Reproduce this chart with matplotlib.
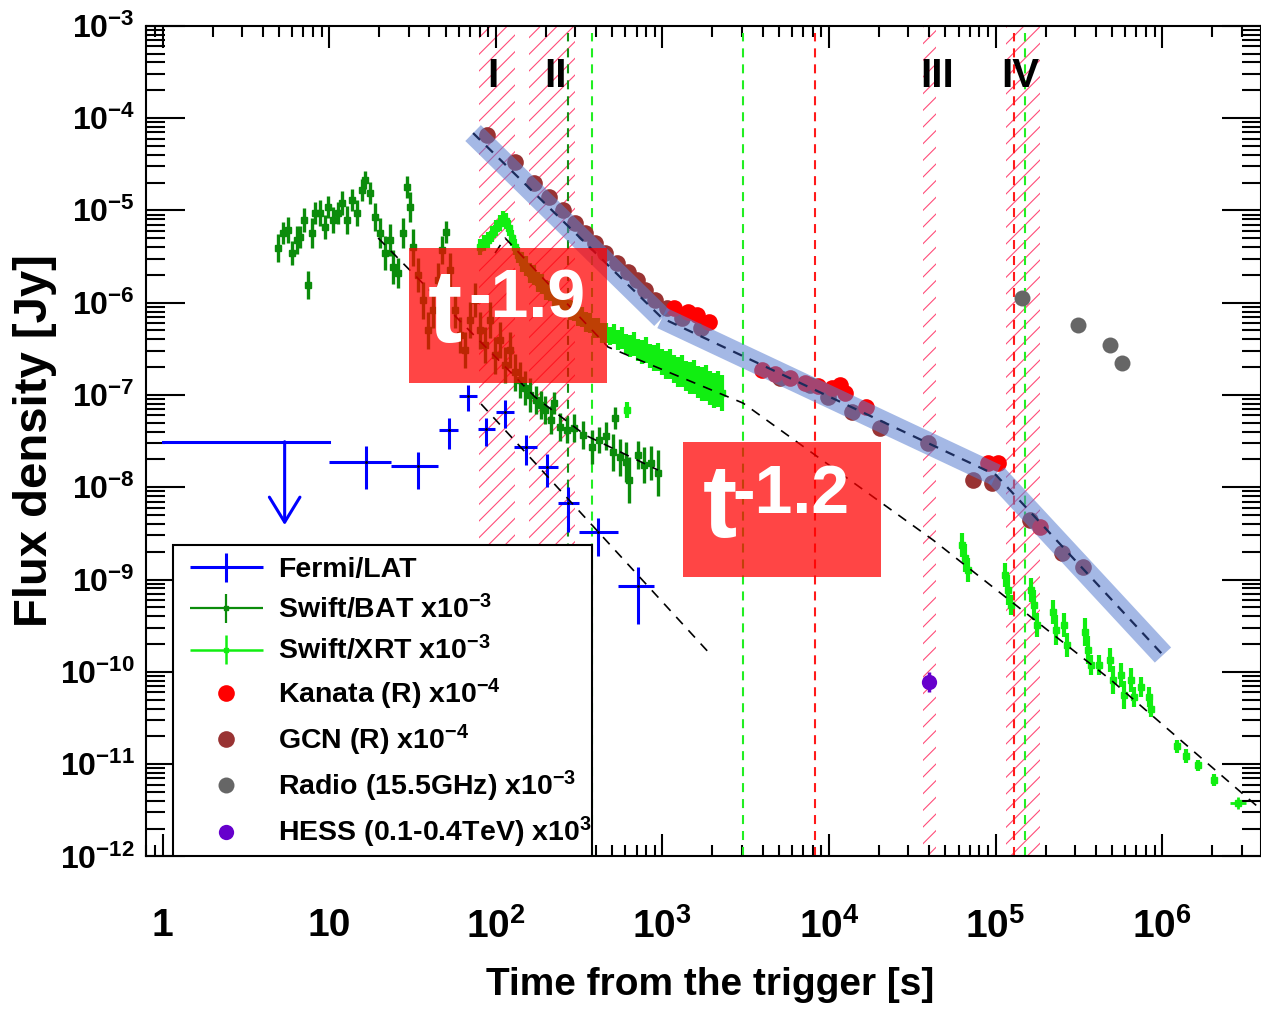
import numpy as np
import matplotlib
matplotlib.use('Agg')
import matplotlib.pyplot as plt
from matplotlib.ticker import LogLocator, NullFormatter
from matplotlib.patches import Rectangle
from matplotlib.legend_handler import HandlerErrorbar
from matplotlib.container import ErrorbarContainer
import warnings
warnings.filterwarnings('ignore')

plt.rcParams['font.family'] = ['Liberation Sans', 'DejaVu Sans']
plt.rcParams['font.weight'] = 'bold'
plt.rcParams['mathtext.fontset'] = 'custom'
plt.rcParams['mathtext.rm'] = 'Liberation Sans:bold'
plt.rcParams['mathtext.bf'] = 'Liberation Sans:bold'
plt.rcParams['mathtext.it'] = 'Liberation Sans:bold'
plt.rcParams['mathtext.default'] = 'bf'
plt.rcParams['hatch.linewidth'] = 0.8
plt.rcParams['lines.scale_dashes'] = False

# ---- data (log10 of time [s] and log10 of flux density [Jy]) ----
# Fermi/LAT
fermi_logt = [1.220, 1.533, 1.717, 1.835, 1.944, 2.056, 2.180, 2.308, 2.433, 2.615, 2.851]
fermi_logt_lo = [0.997, 1.372, 1.657, 1.780, 1.893, 2.000, 2.110, 2.251, 2.374, 2.497, 2.733]
fermi_logt_hi = [1.372, 1.654, 1.773, 1.890, 1.998, 2.110, 2.248, 2.374, 2.497, 2.731, 2.952]
fermi_logf = [-7.727, -7.770, -7.380, -7.012, -7.373, -7.180, -7.568, -7.778, -8.168, -8.485, -9.070]
fermi_logf_lo = [-8.020, -8.020, -7.589, -7.174, -7.554, -7.360, -7.760, -7.995, -8.480, -8.745, -9.480]
fermi_logf_hi = [-7.555, -7.615, -7.247, -6.893, -7.250, -7.060, -7.435, -7.640, -7.995, -8.330, -8.864]
# Fermi upper limit: time centre, time range, flux, arrow tip
ul_logt = 0.733
ul_logt_range = [0.0, 1.0]
ul_logf = -7.507
ul_logf_tip = -8.41

# Swift/BAT x1e-3
bat_logt = [0.693, 0.723, 0.753, 0.777, 0.807, 0.825, 0.849, 0.873, 0.897, 0.915,
            0.945, 0.975, 0.993, 1.023, 1.053, 1.077, 1.107, 1.137, 1.167, 1.197,
            1.215, 1.245, 1.275, 1.305, 1.335, 1.365, 1.383, 1.413, 1.443, 1.467,
            1.485, 1.503, 1.533, 1.563, 1.593, 1.623, 1.653, 1.677, 1.701, 1.725,
            1.755, 1.785, 1.815, 1.845, 1.875, 1.905, 1.935, 1.965, 1.995, 2.025,
            2.055, 2.085, 2.115, 2.145, 2.175, 2.205, 2.241, 2.271, 2.295, 2.331,
            2.349, 2.385, 2.427, 2.469, 2.523, 2.577, 2.619, 2.661, 2.703, 2.715,
            2.745, 2.781, 2.799, 2.853, 2.889, 2.931, 2.973]
bat_logf = [-5.408, -5.246, -5.213, -5.463, -5.322, -5.289, -5.105, -5.809, -5.246, -5.029,
            -5.029, -5.181, -4.964, -5.105, -5.029, -4.921, -5.105, -4.888, -5.029, -4.780,
            -4.672, -4.813, -5.073, -5.246, -5.463, -5.322, -5.614, -5.679, -5.246, -4.748,
            -4.964, -5.398, -5.701, -5.972, -6.297, -6.080, -5.755, -5.430, -5.235, -5.647,
            -6.080, -6.351, -6.513, -6.188, -5.972, -6.297, -6.459, -6.188, -6.568, -6.405,
            -6.676, -6.513, -6.752, -6.838, -6.925, -7.001, -7.055, -7.109, -7.164, -7.272,
            -7.088, -7.348, -7.380, -7.358, -7.434, -7.564, -7.489, -7.445, -7.619, -7.250,
            -7.673, -7.727, -7.922, -7.651, -7.759, -7.738, -7.846]
bat_err = [0.15, 0.12, 0.14, 0.13, 0.15, 0.12, 0.13, 0.15, 0.16, 0.12,
           0.14, 0.13, 0.12, 0.14, 0.12, 0.13, 0.15, 0.12, 0.14, 0.12,
           0.10, 0.12, 0.15, 0.16, 0.18, 0.17, 0.18, 0.16, 0.16, 0.12,
           0.16, 0.20, 0.18, 0.20, 0.20, 0.20, 0.18, 0.15, 0.12, 0.18,
           0.20, 0.20, 0.20, 0.20, 0.18, 0.20, 0.20, 0.20, 0.20, 0.20,
           0.20, 0.20, 0.20, 0.20, 0.18, 0.18, 0.15, 0.15, 0.15, 0.15,
           0.12, 0.15, 0.14, 0.15, 0.15, 0.18, 0.14, 0.15, 0.20, 0.12,
           0.20, 0.22, 0.25, 0.15, 0.20, 0.18, 0.25]

# Swift/XRT x1e-3
xrt_logt = [1.906, 1.930, 1.954, 1.978, 2.002, 2.026, 2.044, 2.062, 2.080, 2.098, 2.116, 2.134,
            2.158, 2.182, 2.206, 2.230, 2.254, 2.278, 2.302, 2.326, 2.350, 2.374, 2.398,
            2.422, 2.446, 2.470, 2.494, 2.518, 2.542, 2.566, 2.590, 2.614, 2.638, 2.662,
            2.686, 2.710, 2.734, 2.758, 2.782, 2.806, 2.830, 2.854, 2.878, 2.902, 2.926,
            2.950, 2.974, 2.998, 3.022, 3.046, 3.070, 3.094, 3.118, 3.142, 3.166, 3.190,
            3.214, 3.238, 3.262, 3.286, 3.310, 3.334, 3.358, 2.788,
            4.799, 4.817, 4.835, 5.057, 5.075, 5.093, 5.213, 5.231, 5.249, 5.345, 5.363,
            5.411, 5.429, 5.537, 5.555, 5.573, 5.621, 5.687, 5.705, 5.753, 5.771, 5.813,
            5.831, 5.873, 5.921, 5.933, 6.089, 6.143, 6.215, 6.311]
xrt_logf = [-5.398, -5.354, -5.322, -5.257, -5.192, -5.138, -5.094, -5.116, -5.192, -5.300, -5.398, -5.484,
            -5.560, -5.603, -5.679, -5.701, -5.777, -5.798, -5.863, -5.874, -5.939, -5.961, -6.015,
            -6.026, -6.080, -6.091, -6.145, -6.156, -6.210, -6.221, -6.275, -6.275, -6.329, -6.329,
            -6.362, -6.340, -6.405, -6.384, -6.449, -6.470, -6.449, -6.513, -6.535, -6.513, -6.578,
            -6.600, -6.589, -6.643, -6.676, -6.665, -6.719, -6.752, -6.741, -6.795, -6.817, -6.806,
            -6.860, -6.882, -6.871, -6.925, -6.947, -6.936, -6.979, -7.164,
            -8.626, -8.767, -8.897, -8.951, -9.114, -9.276, -9.114, -9.276, -9.494, -9.354, -9.549,
            -9.494, -9.710, -9.569, -9.764, -9.926, -9.926, -9.872, -10.089, -10.035, -10.251, -10.089,
            -10.272, -10.164, -10.272, -10.402, -10.804, -10.912, -11.010, -11.172]
xrt_err = [0.09, 0.09, 0.09, 0.09, 0.09, 0.09, 0.09, 0.09, 0.09, 0.09, 0.09, 0.09,
           0.11, 0.11, 0.11, 0.11, 0.11, 0.11, 0.11, 0.11, 0.11, 0.11, 0.11,
           0.11, 0.11, 0.11, 0.11, 0.11, 0.11, 0.11, 0.11, 0.11, 0.11, 0.11,
           0.10, 0.11, 0.11, 0.12, 0.11, 0.12, 0.13, 0.12, 0.13, 0.14, 0.13,
           0.14, 0.15, 0.14, 0.15, 0.16, 0.15, 0.16, 0.17, 0.16, 0.17, 0.18,
           0.17, 0.18, 0.19, 0.18, 0.19, 0.20, 0.19, 0.09,
           0.13, 0.15, 0.13, 0.13, 0.16, 0.11, 0.13, 0.16, 0.13, 0.13, 0.16,
           0.13, 0.13, 0.15, 0.15, 0.11, 0.11, 0.13, 0.15, 0.13, 0.15, 0.13,
           0.11, 0.11, 0.11, 0.09, 0.07, 0.08, 0.06, 0.07]
# last XRT point, with its time bin
xrt_last_logt = [6.456, 6.408, 6.504]
xrt_last_logf = -11.421
xrt_last_err = 0.07

# optical (R band)
kanata_logt = [3.070, 3.154, 3.208, 3.280, 3.599, 3.677, 3.767, 3.857, 3.935, 4.019,
               4.067, 4.097, 4.223, 4.955, 5.015, 5.267]
kanata_logf = [-6.059, -6.102, -6.134, -6.210, -6.730, -6.773, -6.816, -6.871, -6.903, -6.925,
               -6.892, -6.979, -7.131, -7.738, -7.738, -8.431]
gcn_logt = [1.948, 2.116, 2.230, 2.320, 2.404, 2.476, 2.536, 2.596, 2.656, 2.728, 2.794, 2.848,
            2.896, 2.956, 3.028, 3.118, 3.232, 3.707, 3.887, 3.995, 4.139, 4.307, 4.595,
            4.865, 4.979, 5.207, 5.399, 5.525]
gcn_logf = [-4.184, -4.477, -4.704, -4.856, -4.997, -5.138, -5.246, -5.355, -5.463, -5.572, -5.669, -5.756,
            -5.864, -5.973, -6.059, -6.168, -6.276, -6.816, -6.892, -7.022, -7.185, -7.358, -7.521,
            -7.922, -7.955, -8.355, -8.713, -8.865]
radio_logt = [5.159, 5.495, 5.687, 5.759]
radio_logf = [-5.950, -6.243, -6.459, -6.654]
hess_logt = [4.601]
hess_logf = [-10.111]
hess_logf_lo = [-10.22]
hess_logf_hi = [-10.003]

# fitted power laws (vertices)
opt_fit_logt = [1.864, 2.998, 5.003, 6.005]
opt_fit_logf = [-4.163, -6.167, -7.868, -9.818]
bat_fit_logt = [1.294, 2.236, 2.536, 2.974]
bat_fit_logf = [-5.300, -7.023, -7.434, -7.814]
lat_fit_logt = [1.912, 3.298]
lat_fit_logf = [-7.098, -9.829]
xrt_fit_logt = [1.996, 2.056, 2.674, 3.484, 4.625, 5.693, 6.576]
xrt_fit_logf = [-5.463, -5.300, -6.481, -7.088, -8.572, -10.089, -11.465]

# analysis intervals I-IV
epoch_names = ['I', 'II', 'III', 'IV']
epoch_lo = [1.900, 2.200, 4.565, 5.063]
epoch_hi = [2.116, 2.476, 4.643, 5.267]
epoch_label_logt = [1.984, 2.356, 4.649, 5.147]

# vertical marker lines
vline_logt = [2.434, 2.578, 3.484, 3.917, 5.111, 5.177]
vline_color = ['#138f13', '#22ee22', '#22ee22', '#ff1a1a', '#ff1a1a', '#22ee22']

slope_labels = ['-1.9', '-1.2']

legend_labels = ['Fermi/LAT', r'Swift/BAT x10$^{-3}$', r'Swift/XRT x10$^{-3}$',
                 r'Kanata (R) x10$^{-4}$', r'GCN (R) x10$^{-4}$',
                 r'Radio (15.5GHz) x10$^{-3}$', r'HESS (0.1-0.4TeV) x10$^{3}$']

p10 = lambda a: 10 ** np.asarray(a, dtype=float)

fig = plt.figure(figsize=(12.61, 10.09), dpi=100)
ax = fig.add_axes([0.1158, 0.1512, 0.8842, 0.8233])
ax.set_xscale('log')
ax.set_yscale('log')
ax.set_xlim(0.796, 3.92e6)
ax.set_ylim(1e-12, 1e-3)

# hatched intervals
for lo, hi in zip(epoch_lo, epoch_hi):
    ax.axvspan(10 ** lo, 10 ** hi, facecolor='none', edgecolor='#ff4d79', hatch='//',
               linewidth=0, zorder=1)
for nm, lt in zip(epoch_names, epoch_label_logt):
    ax.text(10 ** lt, 0.939, nm, transform=ax.get_xaxis_transform(), ha='center', va='center',
            fontsize=29, fontweight='bold', zorder=25)

for lt, c in zip(vline_logt, vline_color):
    ax.axvline(10 ** lt, ymin=0, ymax=0.991, color=c, lw=1.5, dashes=(6.5, 5), zorder=2)

# Swift/BAT
bt, bf, be = p10(bat_logt), p10(bat_logf), np.array(bat_err)
ax.errorbar(bt, bf, yerr=[bf - bf * 10 ** (-be), bf * 10 ** be - bf], fmt='s', ms=4.5,
            color='#0b8c0b', ecolor='#0b8c0b', elinewidth=2.4, capsize=0, zorder=4)
# Swift/XRT
xt, xf, xe = p10(xrt_logt), p10(xrt_logf), np.array(xrt_err)
ax.errorbar(xt, xf, yerr=[xf - xf * 10 ** (-xe), xf * 10 ** xe - xf], fmt='s', ms=5,
            color='#11ee11', ecolor='#11ee11', elinewidth=3.0, capsize=0, zorder=4)
lt0, lt1, lt2 = p10(xrt_last_logt)
lf = 10 ** xrt_last_logf
ax.errorbar([lt0], [lf], xerr=[[lt0 - lt1], [lt2 - lt0]],
            yerr=[[lf - lf * 10 ** -xrt_last_err], [lf * 10 ** xrt_last_err - lf]],
            fmt='s', ms=4, color='#11ee11', elinewidth=2.0, capsize=0, zorder=4)

# Fermi/LAT
ft, ff = p10(fermi_logt), p10(fermi_logf)
fermi = ax.errorbar(ft, ff, xerr=[ft - p10(fermi_logt_lo), p10(fermi_logt_hi) - ft],
                    yerr=[ff - p10(fermi_logf_lo), p10(fermi_logf_hi) - ff],
                    fmt='none', ecolor='#0000ff', elinewidth=2.2, capsize=0, zorder=6)
ax.plot(ft, ff, 'k.', ms=2, zorder=7)
ax.plot(p10(ul_logt_range), [10 ** ul_logf] * 2, color='#0000ff', lw=2.2, zorder=6)
ax.annotate('', xy=(10 ** ul_logt, 10 ** ul_logf_tip), xytext=(10 ** ul_logt, 10 ** ul_logf),
            arrowprops=dict(arrowstyle='->,head_length=0.9,head_width=0.55', color='#0000ff',
                            lw=2.2, mutation_scale=20, shrinkA=0, shrinkB=0), zorder=6)

# optical / radio / TeV
kan, = ax.plot(p10(kanata_logt), p10(kanata_logf), 'o', color='#ff0000', ms=12, mec='none', zorder=9)
gcn, = ax.plot(p10(gcn_logt), p10(gcn_logf), 'o', color='#993333', ms=12, mec='none', zorder=8)
rad, = ax.plot(p10(radio_logt), p10(radio_logf), 'o', color='#666666', ms=11.5, mec='none', zorder=8)
hf = p10(hess_logf)
ax.errorbar(p10(hess_logt), hf, yerr=[hf - p10(hess_logf_lo), p10(hess_logf_hi) - hf],
            fmt='none', ecolor='#6600cc', elinewidth=2.5, capsize=0, zorder=8)
hes, = ax.plot(p10(hess_logt), hf, 'o', color='#6600cc', ms=11, mec='none', zorder=8)

# optical broken power law band
ot, of = p10(opt_fit_logt), p10(opt_fit_logf)
for i in range(len(ot) - 1):
    ax.plot(ot[i:i + 2], of[i:i + 2], color='#5a7fd0', alpha=0.55, lw=16,
            solid_capstyle='butt', zorder=10)
ax.plot(ot, of, color='#1c2c5c', lw=1.6, dashes=(7, 6), zorder=11)

for lts, lfs in [(bat_fit_logt, bat_fit_logf), (lat_fit_logt, lat_fit_logf),
                 (xrt_fit_logt, xrt_fit_logf)]:
    ax.plot(p10(lts), p10(lfs), color='black', lw=1.2, dashes=(7, 6), zorder=11)

# slope labels: red boxes with "t" and a raised index
box_xy = [(0.2359, 0.5699), (0.4816, 0.3361)]
t_xy = [(0.2529, 0.6193), (0.4995, 0.3840)]
idx_xy = [(0.2888, 0.6482), (0.5256, 0.4135)]
for (x0, y0), (tx, ty), (ix, iy), s in zip(box_xy, t_xy, idx_xy, slope_labels):
    ax.add_patch(Rectangle((x0, y0), 0.1776, 0.1627, transform=ax.transAxes,
                           facecolor='#ff0000', alpha=0.73, edgecolor='none', zorder=20))
    ax.text(tx, ty, 't', transform=ax.transAxes, color='white', fontsize=74,
            fontweight='bold', ha='left', va='baseline', zorder=21)
    ax.text(ix, iy, s, transform=ax.transAxes, color='white', fontsize=49,
            fontweight='bold', ha='left', va='baseline', zorder=21)

# axes styling
ax.set_xticks(p10(np.arange(0, 7)))
ax.set_xticklabels(['1', '10', r'$10^{2}$', r'$10^{3}$', r'$10^{4}$', r'$10^{5}$', r'$10^{6}$'])
ax.set_yticks(p10(np.arange(-12, -2)))
ax.set_yticklabels([r'$10^{%d}$' % k for k in range(-12, -2)])
ax.xaxis.set_minor_locator(LogLocator(base=10, subs=np.arange(2, 10), numticks=100))
ax.yaxis.set_minor_locator(LogLocator(base=10, subs=np.arange(2, 10), numticks=100))
ax.xaxis.set_minor_formatter(NullFormatter())
ax.yaxis.set_minor_formatter(NullFormatter())
ax.tick_params(which='both', direction='in', top=True, right=True, width=1.5, color='black')
ax.tick_params(axis='x', which='major', length=16, labelsize=28, pad=37)
ax.tick_params(axis='x', which='minor', length=8)
ax.tick_params(axis='y', which='major', length=28, labelsize=23, pad=8)
ax.tick_params(axis='y', which='minor', length=14)
for sp in ax.spines.values():
    sp.set_linewidth(1.5)

fig.text(0.0278, 0.563, 'Flux density [Jy]', rotation=90, ha='center', va='center',
         fontsize=34, fontweight='bold')
fig.text(0.563, 0.0238, 'Time from the trigger [s]', ha='center', va='center',
         fontsize=28, fontweight='bold')

# legend: white box with black frame, entries placed inside it
ax.add_patch(Rectangle((0.0242, 0.0), 0.3761, 0.3747, transform=ax.transAxes,
                       facecolor='white', edgecolor='black', linewidth=1.5, zorder=29))
bat_h = ax.errorbar([np.nan], [np.nan], xerr=[[1], [1]], yerr=[[1], [1]], fmt='s', ms=3.5,
                    color='#0b8c0b', elinewidth=1.6, capsize=0)
xrt_h = ax.errorbar([np.nan], [np.nan], xerr=[[1], [1]], yerr=[[1], [1]], fmt='s', ms=3.5,
                    color='#11ee11', elinewidth=1.8, capsize=0)
leg = ax.legend([fermi, bat_h, xrt_h, kan, gcn, rad, hes], legend_labels,
                loc='lower left', bbox_to_anchor=(0.0395, 0.0075), borderaxespad=0,
                frameon=False, fontsize=20.5, handlelength=2.55, handletextpad=0.55,
                labelspacing=0.385, borderpad=0, numpoints=1,
                handler_map={ErrorbarContainer: HandlerErrorbar(xerr_size=1.27, yerr_size=0.5)})
leg.set_zorder(30)

fig.savefig('out.png', dpi=100)
